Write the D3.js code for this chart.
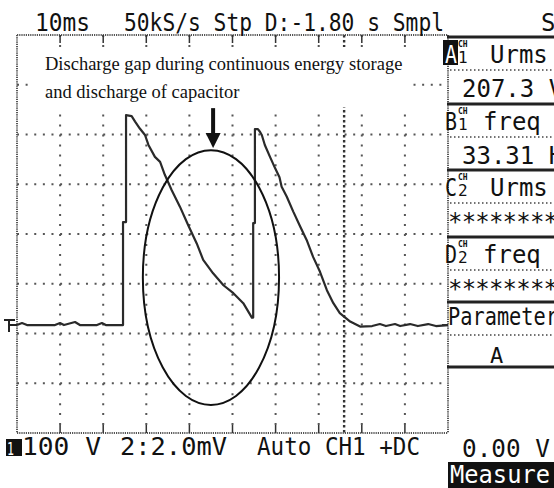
<!DOCTYPE html>
<html>
<head>
<meta charset="utf-8">
<script src="https://cdn.jsdelivr.net/npm/d3@7"></script>
<style>
  html, body { margin: 0; padding: 0; background: #fff; }
  svg { display: block; }
  .mono { font-family: "DejaVu Sans Mono", monospace; fill: #111; }
</style>
</head>
<body>
<svg id="scope" width="554" height="488"></svg>
<script>
// CH1 capture: time in ms from the left edge of the screen, voltage in volts
const timeMs = [0, 1.16, 2.32, 8.82, 9.98, 10.9, 13.46, 14.6, 18.56, 19.7, 20.6, 23.9,
  24.6, 24.6, 25.3, 25.3, 26.6, 27.4, 28.5, 29.7, 30.5, 32.0, 33.2, 34.3, 35.9, 37.8,
  39.7, 41.7, 43.2, 45.5, 47.9, 50.2, 52.5, 54.5,
  54.8, 54.8, 55.2, 55.2, 55.9, 56.4, 56.8, 57.5, 58.7, 59.9, 60.9, 61.4, 62.6, 64.1,
  65.7, 67.2, 68.7, 70.3, 71.9, 73.4, 74.9, 77.3, 79.6,
  82.4, 84.2, 85.6, 87.7, 88.9, 91.2, 93.0, 95.4, 97.2, 100];
const volts = [0, 4, 0, 0, 4, 0, 6, 0, 0, 4, 0, 0,
  0, 207, 207, 422, 420, 409, 395, 382, 362, 338, 328, 302, 271, 238,
  201, 164, 131, 104, 80, 64, 44, 15,
  15, 205, 205, 394, 394, 388, 382, 362, 338, 315, 297, 278, 258, 228,
  198, 171, 137, 107, 70, 44, 24, 7, -3,
  -2, 2, -2, 2, -2, 2, -2, 2, -2, 0];

// Screen settings: 10 ms/div, 100 V/div, ground 1.83 div below centre
const msPerDiv = 10, voltsPerDiv = 100, groundDiv = 1.83;
const xDivs = 10, yDivs = 8;
const triggerMs = 75.9;

// Readout texts
const topLabel = "10ms", topInfo = "50kS/s Stp D:-1.80 s Smpl";
const bottomLabels = ["100 V", "2:2.0mV", "Auto CH1 +DC"];
const measureRows = [
  { key: "A", ch: "1", name: "Urms", value: "207.3 V" },
  { key: "B", ch: "1", name: "freq", value: "33.31 Hz" },
  { key: "C", ch: "2", name: "Urms", value: "********" },
  { key: "D", ch: "2", name: "freq", value: "********" }
];
const noteLines = ["Discharge gap during continuous energy storage", "and discharge of capacitor"];
// Highlighted region (centre and radii in data units) and arrow
const gapCentre = { t: 45.0, v: 95.5 }, gapRadius = { t: 15.8, v: 256 };
const arrow = { t: 45.5, tail: 436, headBase: 386, tip: 356, halfWidth: 1.74 };

const svg = d3.select("#scope");
const L = 17, R = 448, T = 35, B = 433;

const x = d3.scaleLinear().domain([0, xDivs * msPerDiv]).range([L, R]);
const vMin = (-yDivs / 2 + groundDiv) * voltsPerDiv;
const vMax = (yDivs / 2 + groundDiv) * voltsPerDiv;
const y = d3.scaleLinear().domain([vMin, vMax]).range([B, T]);

const colTicks = d3.range(1, xDivs).map(i => i * msPerDiv);
const rowTicks = d3.range(1, yDivs).map(i => vMin + i * voltsPerDiv);

// graticule: dotted lines with a dot every fifth of a division
const grid = svg.append("g");
grid.selectAll(".row").data(rowTicks).join("line")
  .attr("x1", L).attr("x2", R).attr("y1", d => y(d)).attr("y2", d => y(d))
  .attr("stroke", "#555").attr("stroke-width", 2)
  .attr("stroke-dasharray", `2 ${(R - L) / xDivs / 5 - 2}`);
grid.selectAll(".col").data(colTicks).join("line")
  .attr("x1", d => x(d)).attr("x2", d => x(d)).attr("y1", T).attr("y2", B)
  .attr("stroke", "#555").attr("stroke-width", 2)
  .attr("stroke-dasharray", `2 ${(B - T) / yDivs / 5 - 2}`);
// trigger position marker
grid.append("line")
  .attr("x1", x(triggerMs)).attr("x2", x(triggerMs)).attr("y1", T).attr("y2", B)
  .attr("stroke", "#333").attr("stroke-width", 2.4).attr("stroke-dasharray", "2.5 2.5");
// frame
[[L, T, R, T], [L, B, R, B], [L, T, L, B], [R, T, R, B]].forEach(([x1, y1, x2, y2]) => {
  grid.append("line").attr("x1", x1).attr("y1", y1).attr("x2", x2).attr("y2", y2)
    .attr("stroke", "#555").attr("stroke-width", 2).attr("stroke-dasharray", "1.2 1");
});
// division ticks on the top and bottom edges
grid.selectAll(".tt").data(colTicks).join("line")
  .attr("x1", d => x(d)).attr("x2", d => x(d)).attr("y1", T).attr("y2", T + 8)
  .attr("stroke", "#333").attr("stroke-width", 1.5);
grid.selectAll(".bt").data(colTicks).join("line")
  .attr("x1", d => x(d)).attr("x2", d => x(d)).attr("y1", B - 8).attr("y2", B)
  .attr("stroke", "#333").attr("stroke-width", 1.5);

// ground marker on the left edge
const g0 = y(0);
svg.append("path")
  .attr("d", `M4,${g0 - 5}H15M9,${g0 - 5}V${g0 + 7}M9,${g0}H${L}`)
  .attr("stroke", "#222").attr("stroke-width", 2).attr("fill", "none");
svg.append("line").attr("x1", R - 6).attr("x2", R).attr("y1", g0).attr("y2", g0)
  .attr("stroke", "#333").attr("stroke-width", 2);

// CH1 trace
const line = d3.line().x((d, i) => x(timeMs[i])).y((d, i) => y(volts[i]));
svg.append("path").datum(volts)
  .attr("d", line).attr("fill", "none")
  .attr("stroke", "#2a2a2a").attr("stroke-width", 2.2).attr("stroke-linejoin", "round");

// highlighted gap
svg.append("ellipse")
  .attr("cx", x(gapCentre.t)).attr("cy", y(gapCentre.v))
  .attr("rx", x(gapCentre.t + gapRadius.t) - x(gapCentre.t))
  .attr("ry", y(gapCentre.v) - y(gapCentre.v + gapRadius.v))
  .attr("fill", "none").attr("stroke", "#111").attr("stroke-width", 2);

// note box and arrow
svg.append("rect").attr("x", 28).attr("y", 47).attr("width", 385).attr("height", 60).attr("fill", "#fff");
svg.selectAll(".note").data(noteLines).join("text")
  .attr("x", 45).attr("y", (d, i) => 70 + i * 28)
  .attr("font-family", "'Liberation Serif', 'Times New Roman', serif")
  .attr("font-size", 18.5).attr("fill", "#111")
  .text(d => d);
svg.append("line")
  .attr("x1", x(arrow.t)).attr("x2", x(arrow.t))
  .attr("y1", y(arrow.tail)).attr("y2", y(arrow.headBase) + 1)
  .attr("stroke", "#111").attr("stroke-width", 4);
svg.append("path")
  .attr("d", `M${x(arrow.t - arrow.halfWidth)},${y(arrow.headBase)}L${x(arrow.t + arrow.halfWidth)},${y(arrow.headBase)}L${x(arrow.t)},${y(arrow.tip)}Z`)
  .attr("fill", "#111");

// top readout
function mono(txt, xPos, yPos, size, len, fill) {
  const t = svg.append("text").attr("class", "mono")
    .attr("x", xPos).attr("y", yPos).attr("font-size", size).text(txt);
  if (len) t.attr("textLength", len).attr("lengthAdjust", "spacingAndGlyphs");
  if (fill) t.style("fill", fill);
  return t;
}
mono(topLabel, 35, 31, 24, 55);
mono(topInfo, 124, 31, 24, 320);
mono("S", 541, 31, 24);

// bottom readout
svg.append("rect").attr("x", 6).attr("y", 439).attr("width", 16).attr("height", 17).attr("fill", "#111");
mono("1", 7, 455, 18, 7, "#fff");
mono(bottomLabels[0], 22, 455, 24, 79);
mono(bottomLabels[1], 120, 455, 24, 107);
mono(bottomLabels[2], 257, 455, 24, 163);

// measurement panel
const panel = svg.append("g");
const rowTop = [37, 104, 170, 237];
measureRows.forEach((r, i) => {
  const y0 = rowTop[i];
  panel.append("line").attr("x1", 447).attr("x2", 554).attr("y1", y0).attr("y2", y0)
    .attr("stroke", "#222").attr("stroke-width", 3);
  if (i === 0) {
    panel.append("rect").attr("x", 443).attr("y", y0 + 3).attr("width", 15).attr("height", 25).attr("fill", "#111");
  }
  panel.append("text").attr("class", "mono").attr("x", 445).attr("y", y0 + 26)
    .attr("font-size", 24).attr("textLength", 12).attr("lengthAdjust", "spacingAndGlyphs")
    .style("fill", i === 0 ? "#fff" : "#111").text(r.key);
  panel.append("text").attr("class", "mono").attr("x", 458).attr("y", y0 + 10)
    .attr("font-size", 8).attr("font-weight", "bold").text("CH");
  panel.append("text").attr("class", "mono").attr("x", 458).attr("y", y0 + 26)
    .attr("font-size", 16).text(r.ch);
  panel.append("text").attr("class", "mono").attr("x", r.name === "freq" ? 483 : 490).attr("y", y0 + 26)
    .attr("font-size", 24).text(r.name);
  panel.append("line").attr("x1", 450).attr("x2", 554).attr("y1", y0 + 33).attr("y2", y0 + 33)
    .attr("stroke", "#444").attr("stroke-width", 1.5).attr("stroke-dasharray", "1.5 2.5");
  panel.append("text").attr("class", "mono")
    .attr("x", r.value.startsWith("*") ? 448 : 462).attr("y", y0 + 60)
    .attr("font-size", 24).attr("textLength", r.value.startsWith("*") ? 110 : null)
    .text(r.value);
});
panel.append("line").attr("x1", 447).attr("x2", 554).attr("y1", 302).attr("y2", 302)
  .attr("stroke", "#222").attr("stroke-width", 3);
mono("Parameter", 448, 325, 24, 110);
panel.append("line").attr("x1", 450).attr("x2", 554).attr("y1", 335).attr("y2", 335)
  .attr("stroke", "#444").attr("stroke-width", 1.5).attr("stroke-dasharray", "1.5 2.5");
mono("A", 490, 363, 22);
panel.append("line").attr("x1", 447).attr("x2", 554).attr("y1", 367).attr("y2", 367)
  .attr("stroke", "#222").attr("stroke-width", 3);
mono("0.00 V", 462, 457, 24, 88);
panel.append("rect").attr("x", 448).attr("y", 462).attr("width", 106).attr("height", 26).attr("fill", "#111");
mono("Measure", 450, 483, 24, 100, "#fff");
</script>
</body>
</html>
